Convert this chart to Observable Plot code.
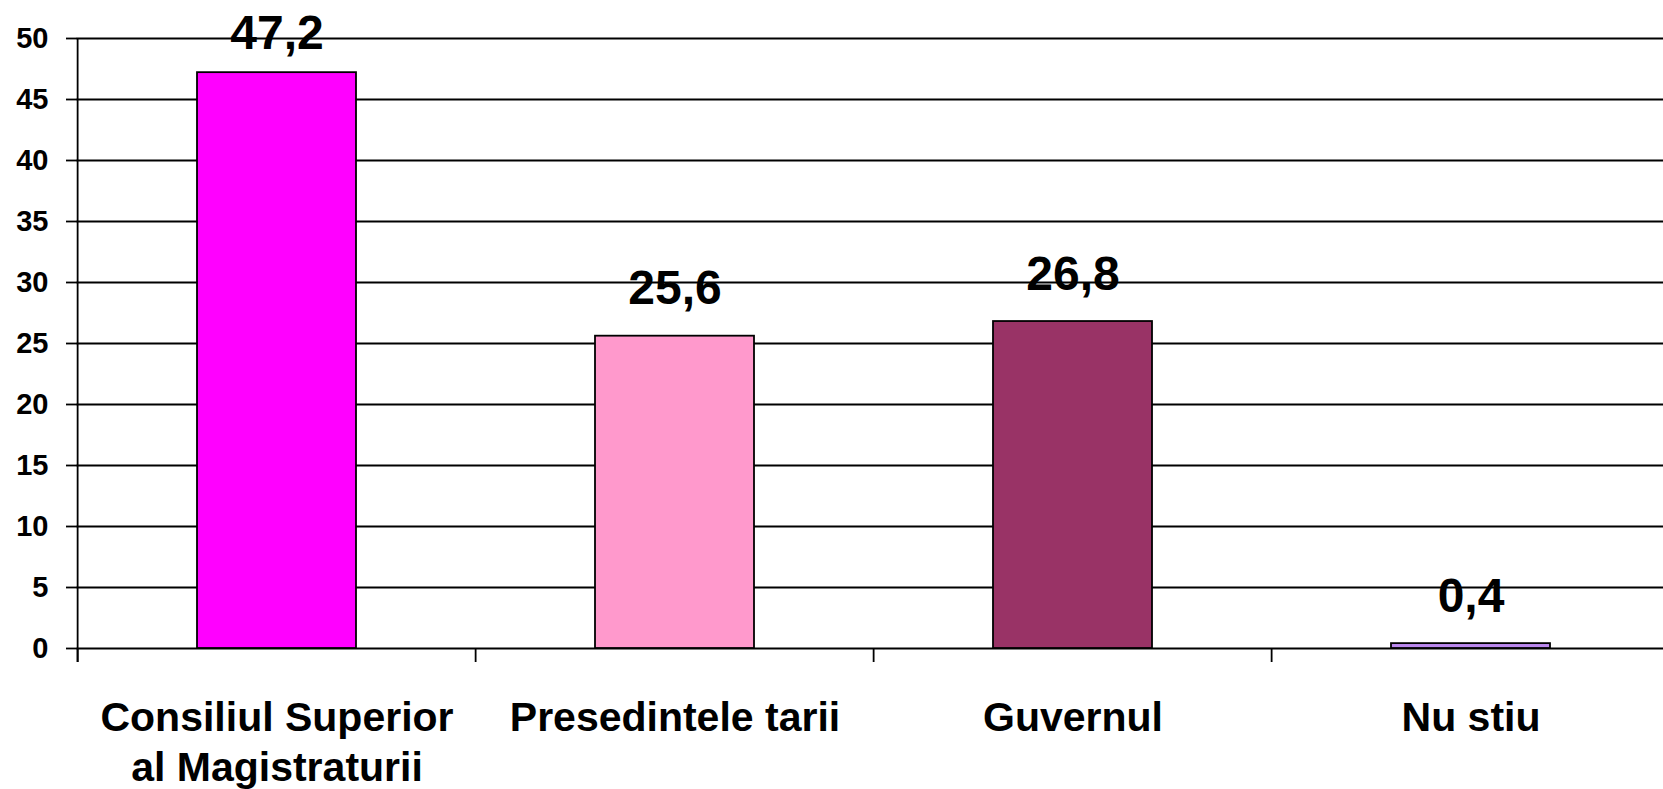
<!DOCTYPE html>
<html><head><meta charset="utf-8">
<script src="https://cdn.jsdelivr.net/npm/d3@7"></script>
<script src="https://cdn.jsdelivr.net/npm/@observablehq/plot@0.6"></script>
<style>html,body{margin:0;padding:0;background:#fff;overflow:hidden}</style>
</head><body><div id="chart"></div>
<script>
const categories = ["Consiliul Superior\nal Magistraturii", "Presedintele tarii", "Guvernul", "Nu stiu"];
const values = [47.2, 25.6, 26.8, 0.4];
const valueLabels = ["47,2", "25,6", "26,8", "0,4"];
const colors = ["#FF00FF", "#FF99CC", "#993366", "#BB88EE"];
const yTicks = [0, 5, 10, 15, 20, 25, 30, 35, 40, 45, 50];

const data = categories.map((c, i) => ({category: c, value: values[i], label: valueLabels[i]}));
const W = 1663, H = 789, ML = 76, MR = -8, MT = 38, MB = 141;
const step = (W - MR - ML) / categories.length;
const font = "'Liberation Sans', Arial, Helvetica, sans-serif";
const SW = 1.8;

const chart = Plot.plot({
  width: W, height: H,
  marginLeft: ML, marginRight: MR, marginTop: MT, marginBottom: MB,
  style: {fontFamily: font, fontWeight: "bold", color: "#000", background: "#fff"},
  x: {domain: categories, paddingInner: 0.6, paddingOuter: 0.3, axis: null},
  y: {domain: [0, 50], axis: null},
  color: {domain: categories, range: colors},
  marks: [
    Plot.gridY(yTicks, {stroke: "#000", strokeOpacity: 1, strokeWidth: SW}),
    Plot.axisY(yTicks, {label: null, tickSize: 10, tickPadding: 18, fontSize: 29, fontWeight: "bold", strokeWidth: SW, strokeOpacity: 1, tickFormat: d => String(d)}),
    Plot.ruleX([categories[0]], {x: d => d, dx: -step / 2, y1: 50, y2: 0, insetBottom: -14, stroke: "#000", strokeWidth: SW}),
    Plot.ruleX(categories, {x: d => d, dx: -step / 2, y1: 0, y2: 0, insetBottom: -14, stroke: "#000", strokeWidth: SW}),
    Plot.barY(data, {x: "category", y: "value", fill: "category", stroke: "#000", strokeWidth: SW}),
    Plot.text(data.filter(d => d.value < 45), {x: "category", y: "value", text: "label", dy: -32, lineAnchor: "bottom", fontSize: 48, fontWeight: "bold", fill: "#000"}),
    Plot.text(data.filter(d => d.value >= 45), {x: "category", y: "value", text: "label", dy: -24, lineAnchor: "bottom", fontSize: 48, fontWeight: "bold", fill: "#000"}),
    Plot.text(data, {x: "category", frameAnchor: "bottom", text: "category", lineAnchor: "top", dy: 48, fontSize: 41, lineHeight: 1.2, fontWeight: "bold", fill: "#000"})
  ]
});
document.getElementById("chart").appendChild(chart);
</script>
</body></html>
